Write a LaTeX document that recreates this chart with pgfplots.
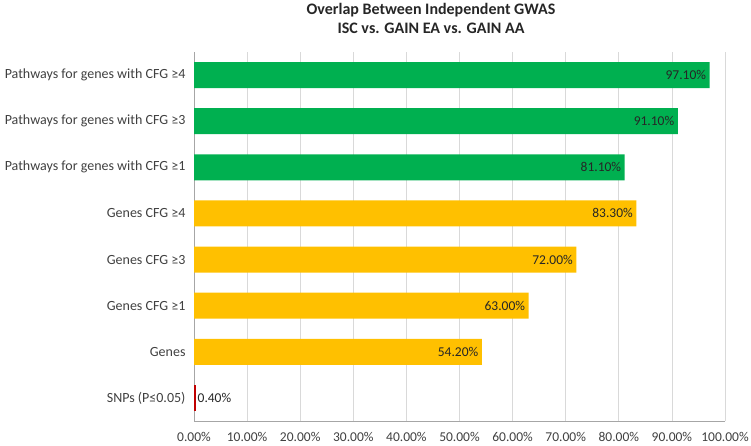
\documentclass[border=0pt]{standalone}
\usepackage{pgfplots}
\pgfplotsset{compat=1.18}
\usepackage{fontspec}
\setmainfont{Carlito}
\definecolor{cgreen}{HTML}{00B050}
\definecolor{corange}{HTML}{FFC000}
\definecolor{cred}{HTML}{C00000}
\definecolor{cgrid}{HTML}{D9D9D9}
\definecolor{caxis}{HTML}{A6A6A6}
\definecolor{ctext}{HTML}{404040}
\begin{document}
\begin{tikzpicture}
\useasboundingbox (0,0) rectangle (751pt,445pt);
\node[font=\fontsize{16}{19.5}\selectfont\bfseries, text=black!85, align=center, inner sep=0pt] at (431pt,426.5pt) {Overlap Between Independent GWAS\\ISC vs. GAIN EA vs. GAIN AA};
\begin{axis}[
  at={(194pt,24pt)}, anchor=south west,
  scale only axis, width=531pt, height=369pt,
  xbar, bar width=26pt, bar shift=0pt,
  xmin=0, xmax=100, ymin=-0.5, ymax=7.5,
  xtick={0,10,...,100},
  ytick={0,...,7},
  yticklabels={{SNPs (P≤0.05)},{Genes},{Genes CFG ≥1},{Genes CFG ≥3},{Genes CFG ≥4},{Pathways for genes with CFG ≥1},{Pathways for genes with CFG ≥3},{Pathways for genes with CFG ≥4}},
  /pgf/number format/assume math mode=true,
  xticklabel={\pgfmathprintnumber[fixed,fixed zerofill,precision=2]{\tick}\%},
  tick label style={text=ctext},
  xticklabel style={font=\fontsize{13.5}{15}\selectfont, yshift=-7.5pt},
  yticklabel style={font=\fontsize{14}{16}\selectfont, xshift=-5pt},
  major tick length=0pt,
  xmajorgrids, grid style={cgrid, line width=0.8pt},
  axis x line*=bottom, axis y line*=left,
  x axis line style={caxis, line width=0.9pt, -},
  y axis line style={caxis, line width=0.9pt, -},
  point meta=x,
  nodes near coords={\pgfmathprintnumber[fixed,fixed zerofill,precision=2]{\pgfplotspointmeta}\%},
  every node near coord/.append style={font=\fontsize{13.5}{15}\selectfont, text=black!85},
  clip=false,
]
\addplot[fill=cgreen, draw=none, every node near coord/.append style={anchor=east}] coordinates {(81.1,5) (91.1,6) (97.1,7)};
\addplot[fill=corange, draw=none, every node near coord/.append style={anchor=east}] coordinates {(54.2,1) (63.0,2) (72.0,3) (83.3,4)};
\addplot[fill=cred, draw=none, every node near coord/.append style={anchor=west, xshift=-2pt}] coordinates {(0.4,0)};
\end{axis}
\end{tikzpicture}
\end{document}
